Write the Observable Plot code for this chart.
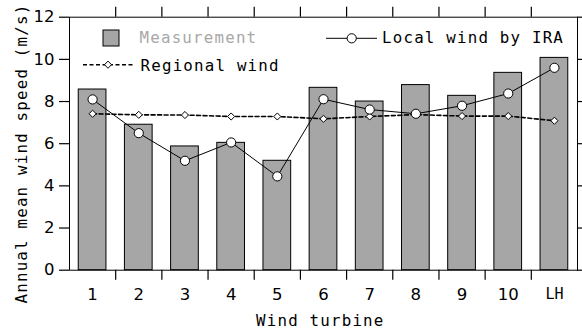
<!DOCTYPE html>
<html><head><meta charset="utf-8">
<script src="https://cdn.jsdelivr.net/npm/d3@7"></script>
<script src="https://cdn.jsdelivr.net/npm/@observablehq/plot@0.6"></script>
<style>body{margin:0;background:#fff} #chart{position:relative}</style>
</head><body><div id="chart"></div>
<script>
const turbines = ["1","2","3","4","5","6","7","8","9","10","LH"];
const measurement = [8.57,6.9,5.87,6.04,5.19,8.65,8.0,8.78,8.27,9.36,10.07];
const localIRA = [8.1,6.5,5.19,6.06,4.45,8.11,7.62,7.42,7.8,8.38,9.6];
const regional = [7.42,7.37,7.36,7.29,7.29,7.18,7.29,7.38,7.31,7.31,7.09];
const yTicks = [0,2,4,6,8,10,12];

const rows = turbines.map((t,k)=>({i:k+1, t, m:measurement[k], l:localIRA[k], r:regional[k]}));
const boundaries = rows.slice(0,-1).map(d=>d.i+0.5);
const xMin = 0.5, xMax = turbines.length + 0.5;
const yMin = yTicks[0], yMax = yTicks[yTicks.length-1];
const mono = "DejaVu Sans Mono";
const monoSize = 15.8, monoLS = 1.2;
const tickLen = 10;

const plot = Plot.plot({
  width:582, height:331,
  marginLeft:69, marginRight:5, marginTop:16.7, marginBottom:61.3,
  x:{type:"linear", domain:[xMin, xMax]},
  y:{domain:[yMin, yMax]},
  style:{fontFamily:"DejaVu Sans", fontSize:"16.5px", color:"black", background:"white", overflow:"visible"},
  marks:[
    Plot.rectY(rows,{x1:d=>d.i-0.3, x2:d=>d.i+0.3, y1:0, y2:"m", fill:"#a6a6a6", stroke:"black", strokeWidth:1}),
    Plot.line(rows,{x:"i", y:"r", stroke:"black", strokeWidth:1.6, strokeDasharray:"4,2.5"}),
    Plot.dot(rows,{x:"i", y:"r", symbol:"diamond2", r:3.2, fill:"white", stroke:"black", strokeWidth:1}),
    Plot.line(rows,{x:"i", y:"l", stroke:"black", strokeWidth:1}),
    Plot.dot(rows,{x:"i", y:"l", r:4.6, fill:"white", stroke:"black", strokeWidth:1}),
    Plot.frame({stroke:"black"}),
    // bottom and top ticks at category boundaries
    Plot.ruleX(boundaries, {x:d=>d, y1:yMin, y2:yMin, insetTop:-tickLen, dy:tickLen, stroke:"black", strokeWidth:1.2}),
    Plot.ruleX(boundaries, {x:d=>d, y1:yMax, y2:yMax, insetTop:-tickLen, stroke:"black", strokeWidth:1.2}),
    // left and right y ticks
    Plot.ruleY(yTicks, {y:d=>d, x1:xMin, x2:xMin, insetRight:-tickLen, dx:-tickLen, stroke:"black", strokeWidth:1.2}),
    Plot.ruleY(yTicks, {y:d=>d, x1:xMax, x2:xMax, insetRight:-tickLen, stroke:"black", strokeWidth:1.2}),
    Plot.axisX({ticks: rows.filter(d=>d.t!=="LH").map(d=>d.i), tickSize:0, tickPadding:18, tickFormat:i=>turbines[i-1], label:null}),
    Plot.axisX({ticks: rows.filter(d=>d.t==="LH").map(d=>d.i), tickSize:0, tickPadding:18.5, tickFormat:i=>turbines[i-1], label:null, fontFamily:mono, fontSize:15}),
    Plot.axisY({ticks:yTicks, tickSize:0, tickPadding:15, label:null})
  ]
});
document.getElementById("chart").appendChild(plot);

const svg = d3.select(plot);
const txt = (s, x, y, fill="black") => svg.append("text").attr("x",x).attr("y",y)
  .attr("text-anchor","start")
  .attr("font-family",mono).attr("font-size",monoSize).attr("letter-spacing",monoLS)
  .attr("fill",fill).text(s);

txt("Wind turbine", 256, 326);
svg.append("text").attr("transform","translate(26.5,303.5) rotate(-90)")
  .attr("text-anchor","start")
  .attr("font-family",mono).attr("font-size",monoSize).attr("letter-spacing",monoLS)
  .attr("fill","black").text("Annual mean wind speed (m/s)");

const g = svg.append("g");
g.append("rect").attr("x",103).attr("y",30).attr("width",16).attr("height",16)
  .attr("fill","#a6a6a6").attr("stroke","black");
txt("Measurement", 139.5, 43.3, "#a8a8a8");
g.append("line").attr("x1",326).attr("x2",377).attr("y1",38.3).attr("y2",38.3).attr("stroke","black");
g.append("circle").attr("cx",351.7).attr("cy",38.3).attr("r",4.6).attr("fill","white").attr("stroke","black");
txt("Local wind by IRA", 382, 43.3);
g.append("line").attr("x1",83).attr("x2",135).attr("y1",64.7).attr("y2",64.7)
  .attr("stroke","black").attr("stroke-width",1.6).attr("stroke-dasharray","4,2.5");
const h = 3.55, cx = 108, cy = 64.7;
g.append("path").attr("d",`M${cx},${cy-h}L${cx+h},${cy}L${cx},${cy+h}L${cx-h},${cy}Z`)
  .attr("fill","white").attr("stroke","black");
txt("Regional wind", 140.5, 70.5);
</script>
</body></html>
